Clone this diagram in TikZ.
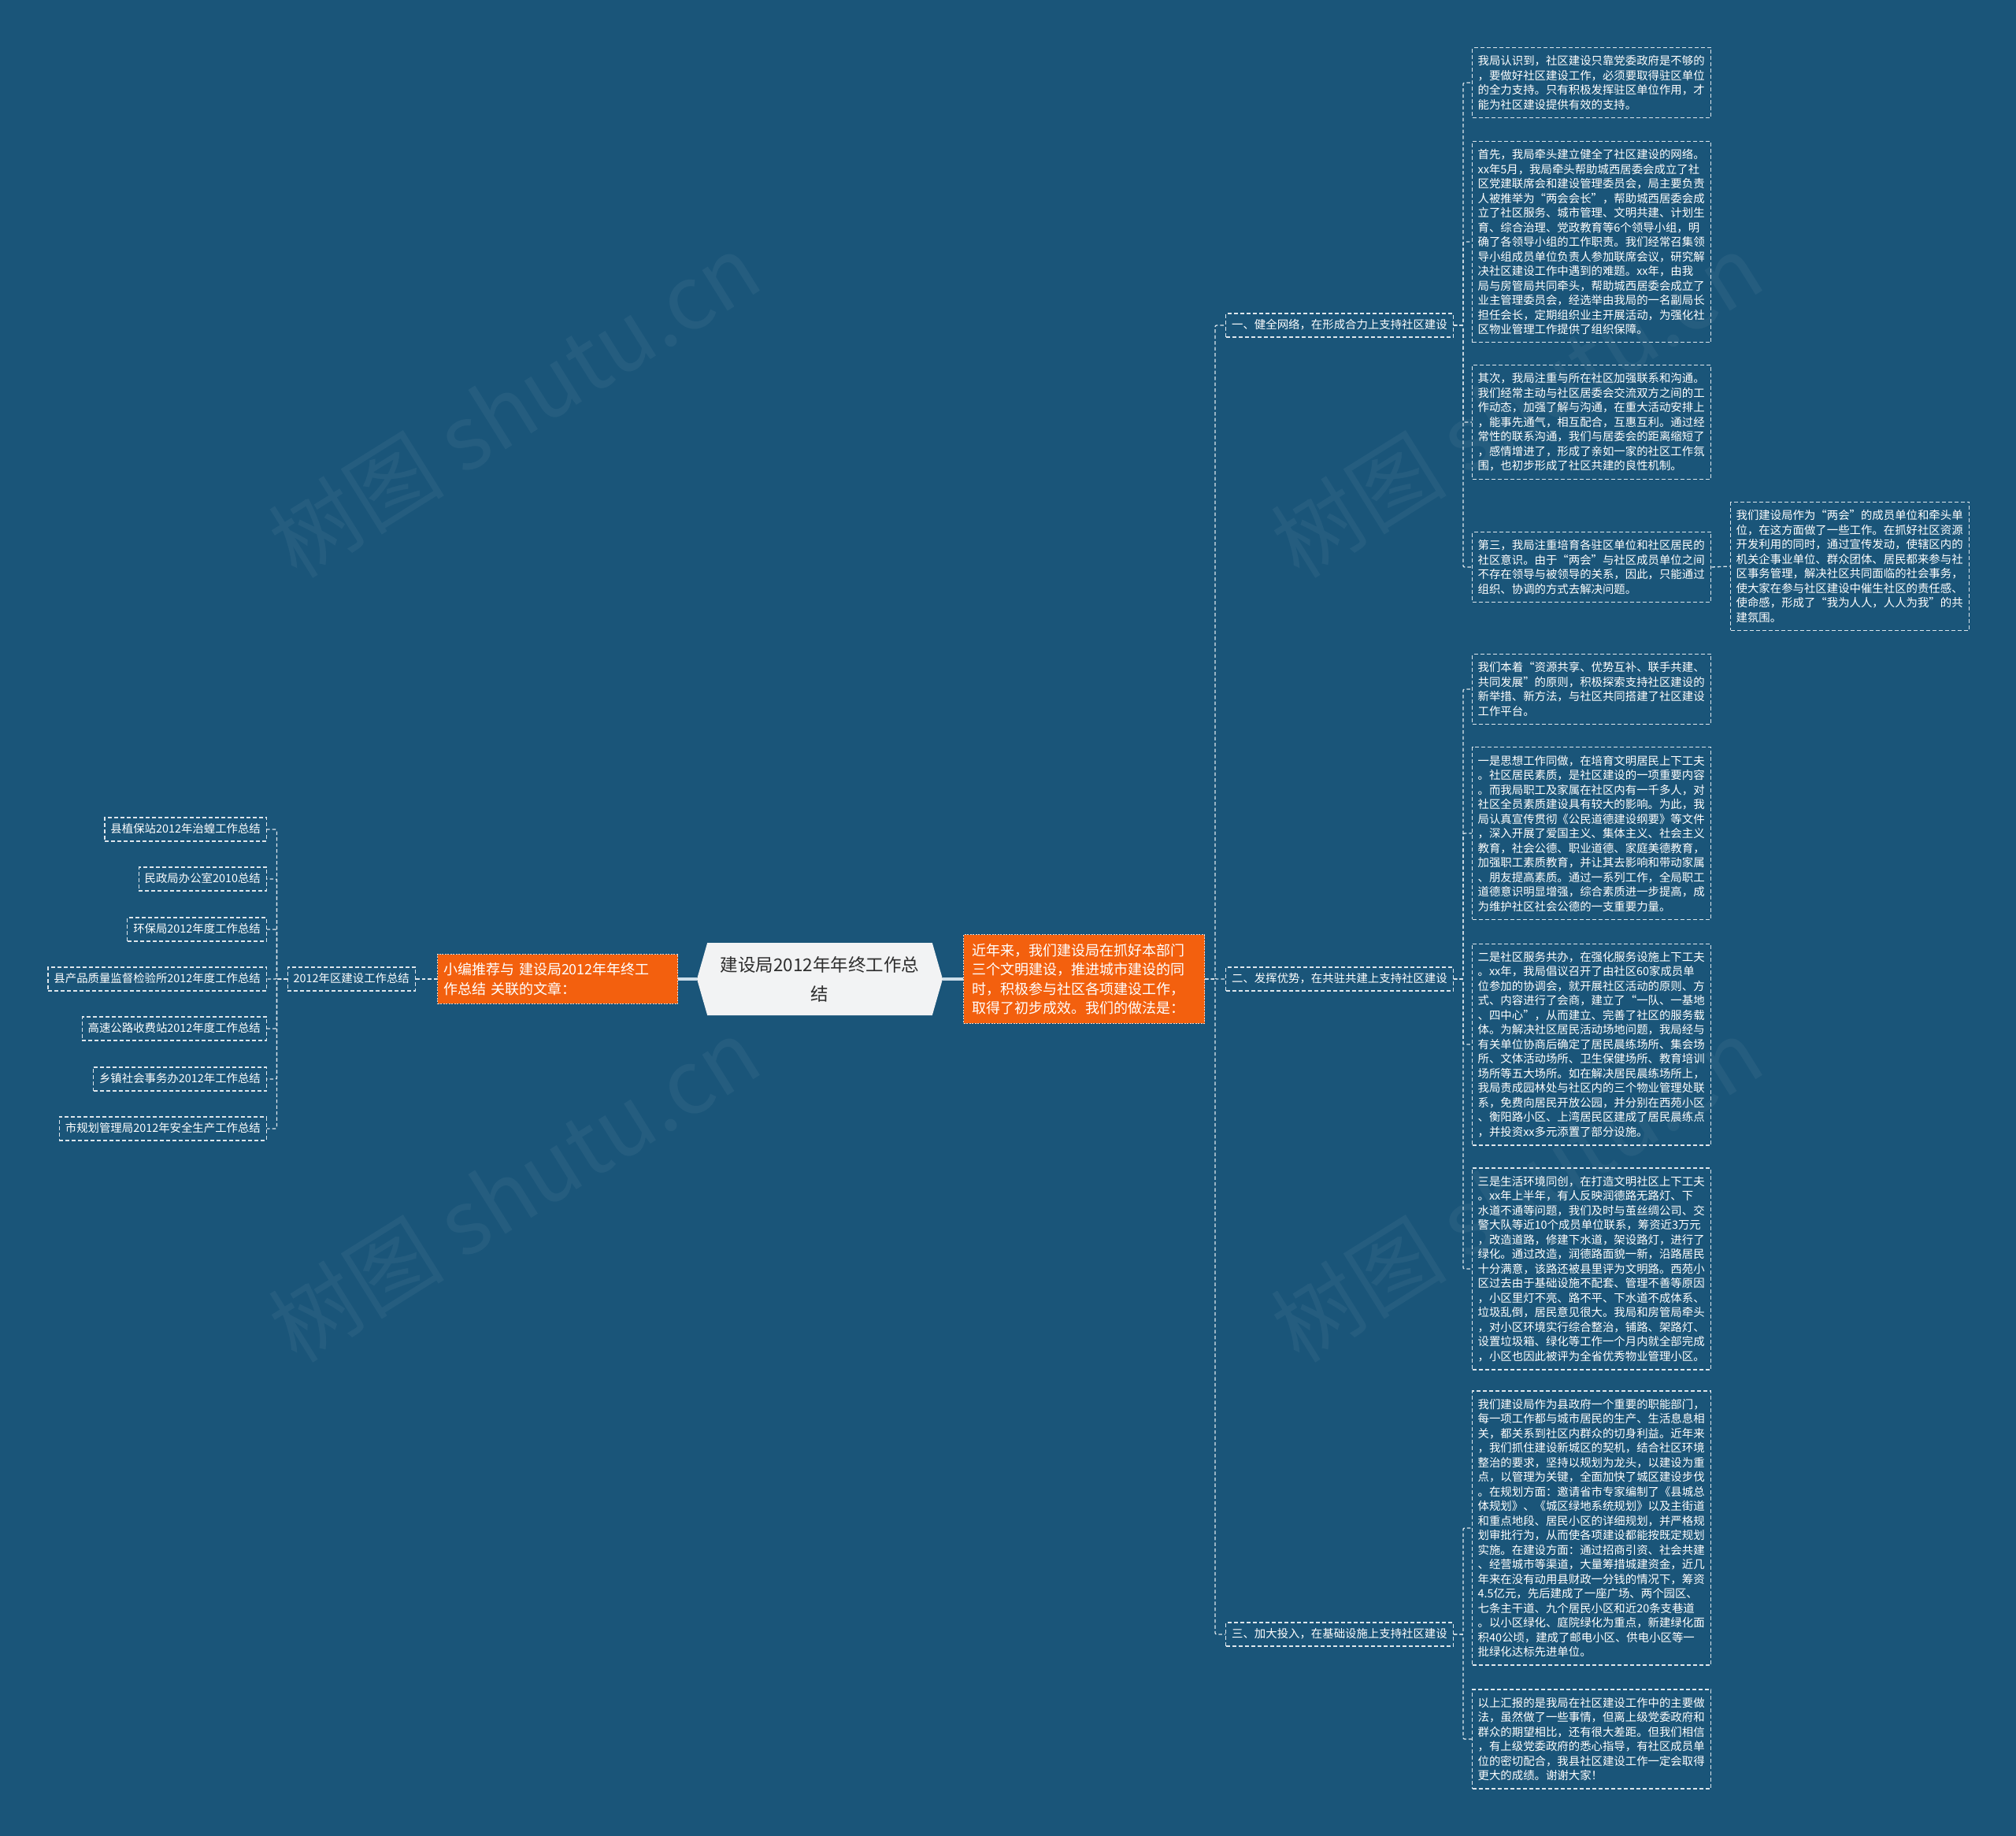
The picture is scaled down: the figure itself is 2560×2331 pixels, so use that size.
\documentclass[tikz,border=0pt]{standalone}
\usepackage{fontspec}
\newfontfamily\cjk{Noto Sans CJK SC}
\usetikzlibrary{shapes.symbols}
\definecolor{bg}{RGB}{26,85,121}
\definecolor{org}{RGB}{243,96,14}
\definecolor{lineclr}{RGB}{222,230,236}
\definecolor{hexfill}{RGB}{242,243,244}
\definecolor{darktext}{RGB}{45,45,45}
\definecolor{solidclr}{RGB}{205,222,234}
\begin{document}
\begin{tikzpicture}[x=1pt,y=-1pt,
  conn/.style={draw=lineclr, line width=1.3pt, dash pattern=on 4.5pt off 3pt, rounded corners=2pt},
  solidconn/.style={draw=solidclr, line width=3.5pt},
  textbox/.style={draw=lineclr, line width=1.3pt, dash pattern=on 5pt off 3pt, text=white,
    font=\cjk\fontsize{14.4}{18.5}\selectfont, text width=289pt, align=left,
    inner xsep=7pt, inner ysep=10pt, anchor=west},
  labelbox/.style={draw=lineclr, line width=1.3pt, dash pattern=on 5pt off 3pt, text=white,
    font=\cjk\fontsize{14.4}{18.5}\selectfont, text height=11pt, text depth=3pt,
    inner xsep=7.5pt, inner ysep=8pt},
  orangebox/.style={fill=org, draw=white!75!org, line width=1pt, dash pattern=on 2pt off 1.5pt,
    text=white, align=left, anchor=west},
  wm/.style={text=white, opacity=0.05, font=\cjk\fontsize{112}{120}\selectfont, rotate=32}
]
\useasboundingbox (0,0) rectangle (2560,2331);
\fill[bg] (0,0) rectangle (2560,2331);

% watermarks
\node[wm] (wm1) at (653,514) {树图 shutu.cn};
\node[wm] (wm2) at (1926,514) {树图 shutu.cn};
\node[wm] (wm3) at (653,1510) {树图 shutu.cn};
\node[wm] (wm4) at (1926,1510) {树图 shutu.cn};

% centre
\node[signal, signal to=west and east, signal pointer angle=148, fill=hexfill,
  minimum width=312pt, minimum height=92pt, inner sep=2pt,
  font=\cjk\fontsize{22.5}{37}\selectfont, text=darktext, align=center] (c) at (1041,1243)
  {建设局2012年年终工作总\\结};

% orange nodes
\node[orangebox, text width=290pt, inner xsep=7.5pt, inner ysep=10.5pt,
  font=\cjk\fontsize{18}{25}\selectfont] (o1) at (555,1243)
  {小编推荐与~建设局2012年年终工\\作总结~关联的文章：};
\node[orangebox, text width=284pt, inner xsep=11pt, inner ysep=11pt,
  font=\cjk\fontsize{18}{24.5}\selectfont] (o2) at (1223,1243)
  {近年来，我们建设局在抓好本部门\\三个文明建设，推进城市建设的同\\时，积极参与社区各项建设工作，\\取得了初步成效。我们的做法是：};

% left side
\node[labelbox, anchor=east] (k) at (528,1243) {2012年区建设工作总结};
\node[labelbox, anchor=east] (i1) at (339,1053) {县植保站2012年治蝗工作总结};
\node[labelbox, anchor=east] (i2) at (339,1116) {民政局办公室2010总结};
\node[labelbox, anchor=east] (i3) at (339,1180) {环保局2012年度工作总结};
\node[labelbox, anchor=east] (i4) at (339,1243) {县产品质量监督检验所2012年度工作总结};
\node[labelbox, anchor=east] (i5) at (339,1306) {高速公路收费站2012年度工作总结};
\node[labelbox, anchor=east] (i6) at (339,1370) {乡镇社会事务办2012年工作总结};
\node[labelbox, anchor=east] (i7) at (339,1433) {市规划管理局2012年安全生产工作总结};

% branch labels
\node[labelbox, anchor=west] (l1) at (1556,413) {一、健全网络，在形成合力上支持社区建设};
\node[labelbox, anchor=west] (l2) at (1556,1243) {二、发挥优势，在共驻共建上支持社区建设};
\node[labelbox, anchor=west] (l3) at (1556,2075) {三、加大投入，在基础设施上支持社区建设};

% right text boxes
\node[textbox] (b1) at (1869,105) {我局认识到，社区建设只靠党委政府是不够的\\，要做好社区建设工作，必须要取得驻区单位\\的全力支持。只有积极发挥驻区单位作用，才\\能为社区建设提供有效的支持。};

\node[textbox] (b2) at (1869,307) {首先，我局牵头建立健全了社区建设的网络。\\xx年5月，我局牵头帮助城西居委会成立了社\\区党建联席会和建设管理委员会，局主要负责\\人被推举为“两会会长”，帮助城西居委会成\\立了社区服务、城市管理、文明共建、计划生\\育、综合治理、党政教育等6个领导小组，明\\确了各领导小组的工作职责。我们经常召集领\\导小组成员单位负责人参加联席会议，研究解\\决社区建设工作中遇到的难题。xx年，由我\\局与房管局共同牵头，帮助城西居委会成立了\\业主管理委员会，经选举由我局的一名副局长\\担任会长，定期组织业主开展活动，为强化社\\区物业管理工作提供了组织保障。};

\node[textbox] (b3) at (1869,536) {其次，我局注重与所在社区加强联系和沟通。\\我们经常主动与社区居委会交流双方之间的工\\作动态，加强了解与沟通，在重大活动安排上\\，能事先通气，相互配合，互惠互利。通过经\\常性的联系沟通，我们与居委会的距离缩短了\\，感情增进了，形成了亲如一家的社区工作氛\\围，也初步形成了社区共建的良性机制。};

\node[textbox] (b4) at (1869,720) {第三，我局注重培育各驻区单位和社区居民的\\社区意识。由于“两会”与社区成员单位之间\\不存在领导与被领导的关系，因此，只能通过\\组织、协调的方式去解决问题。};

\node[textbox] (s) at (2197,719) {我们建设局作为“两会”的成员单位和牵头单\\位，在这方面做了一些工作。在抓好社区资源\\开发利用的同时，通过宣传发动，使辖区内的\\机关企事业单位、群众团体、居民都来参与社\\区事务管理，解决社区共同面临的社会事务，\\使大家在参与社区建设中催生社区的责任感、\\使命感，形成了“我为人人，人人为我”的共\\建氛围。};

\node[textbox] (b5) at (1869,875) {我们本着“资源共享、优势互补、联手共建、\\共同发展”的原则，积极探索支持社区建设的\\新举措、新方法，与社区共同搭建了社区建设\\工作平台。};

\node[textbox] (b6) at (1869,1058) {一是思想工作同做，在培育文明居民上下工夫\\。社区居民素质，是社区建设的一项重要内容\\。而我局职工及家属在社区内有一千多人，对\\社区全员素质建设具有较大的影响。为此，我\\局认真宣传贯彻《公民道德建设纲要》等文件\\，深入开展了爱国主义、集体主义、社会主义\\教育，社会公德、职业道德、家庭美德教育，\\加强职工素质教育，并让其去影响和带动家属\\、朋友提高素质。通过一系列工作，全局职工\\道德意识明显增强，综合素质进一步提高，成\\为维护社区社会公德的一支重要力量。};

\node[textbox] (b7) at (1869,1326) {二是社区服务共办，在强化服务设施上下工夫\\。xx年，我局倡议召开了由社区60家成员单\\位参加的协调会，就开展社区活动的原则、方\\式、内容进行了会商，建立了“一队、一基地\\、四中心”，从而建立、完善了社区的服务载\\体。为解决社区居民活动场地问题，我局经与\\有关单位协商后确定了居民晨练场所、集会场\\所、文体活动场所、卫生保健场所、教育培训\\场所等五大场所。如在解决居民晨练场所上，\\我局责成园林处与社区内的三个物业管理处联\\系，免费向居民开放公园，并分别在西苑小区\\、衡阳路小区、上湾居民区建成了居民晨练点\\，并投资xx多元添置了部分设施。};

\node[textbox] (b8) at (1869,1611) {三是生活环境同创，在打造文明社区上下工夫\\。xx年上半年，有人反映润德路无路灯、下\\水道不通等问题，我们及时与茧丝绸公司、交\\警大队等近10个成员单位联系，筹资近3万元\\，改造道路，修建下水道，架设路灯，进行了\\绿化。通过改造，润德路面貌一新，沿路居民\\十分满意，该路还被县里评为文明路。西苑小\\区过去由于基础设施不配套、管理不善等原因\\，小区里灯不亮、路不平、下水道不成体系、\\垃圾乱倒，居民意见很大。我局和房管局牵头\\，对小区环境实行综合整治，铺路、架路灯、\\设置垃圾箱、绿化等工作一个月内就全部完成\\，小区也因此被评为全省优秀物业管理小区。};

\node[textbox] (b9) at (1869,1940) {我们建设局作为县政府一个重要的职能部门，\\每一项工作都与城市居民的生产、生活息息相\\关，都关系到社区内群众的切身利益。近年来\\，我们抓住建设新城区的契机，结合社区环境\\整治的要求，坚持以规划为龙头，以建设为重\\点，以管理为关键，全面加快了城区建设步伐\\。在规划方面：邀请省市专家编制了《县城总\\体规划》、《城区绿地系统规划》以及主街道\\和重点地段、居民小区的详细规划，并严格规\\划审批行为，从而使各项建设都能按既定规划\\实施。在建设方面：通过招商引资、社会共建\\、经营城市等渠道，大量筹措城建资金，近几\\年来在没有动用县财政一分钱的情况下，筹资\\4.5亿元，先后建成了一座广场、两个园区、\\七条主干道、九个居民小区和近20条支巷道\\。以小区绿化、庭院绿化为重点，新建绿化面\\积40公顷，建成了邮电小区、供电小区等一\\批绿化达标先进单位。};

\node[textbox] (b10) at (1869,2208) {以上汇报的是我局在社区建设工作中的主要做\\法，虽然做了一些事情，但离上级党委政府和\\群众的期望相比，还有很大差距。但我们相信\\，有上级党委政府的悉心指导，有社区成员单\\位的密切配合，我县社区建设工作一定会取得\\更大的成绩。谢谢大家！};

% connectors
\draw[solidconn] (c.west) -- (o1.east);
\draw[solidconn] (c.east) -- (o2.west);
\draw[conn] (o1.west) -- (k.east);
\foreach \n in {i1,i2,i3,i4,i5,i6,i7}
  \draw[conn] (k.west) -- ++(-13,0) |- (\n.east);
\foreach \n in {l1,l2,l3}
  \draw[conn] (o2.east) -- ++(13,0) |- (\n.west);
\foreach \n in {b1,b2,b3,b4}
  \draw[conn] (l1.east) -- ++(12,0) |- (\n.west);
\foreach \n in {b5,b6,b7,b8}
  \draw[conn] (l2.east) -- ++(12,0) |- (\n.west);
\foreach \n in {b9,b10}
  \draw[conn] (l3.east) -- ++(12,0) |- (\n.west);
\draw[conn] (b4.east) -- (s.west);
\end{tikzpicture}
\end{document}
